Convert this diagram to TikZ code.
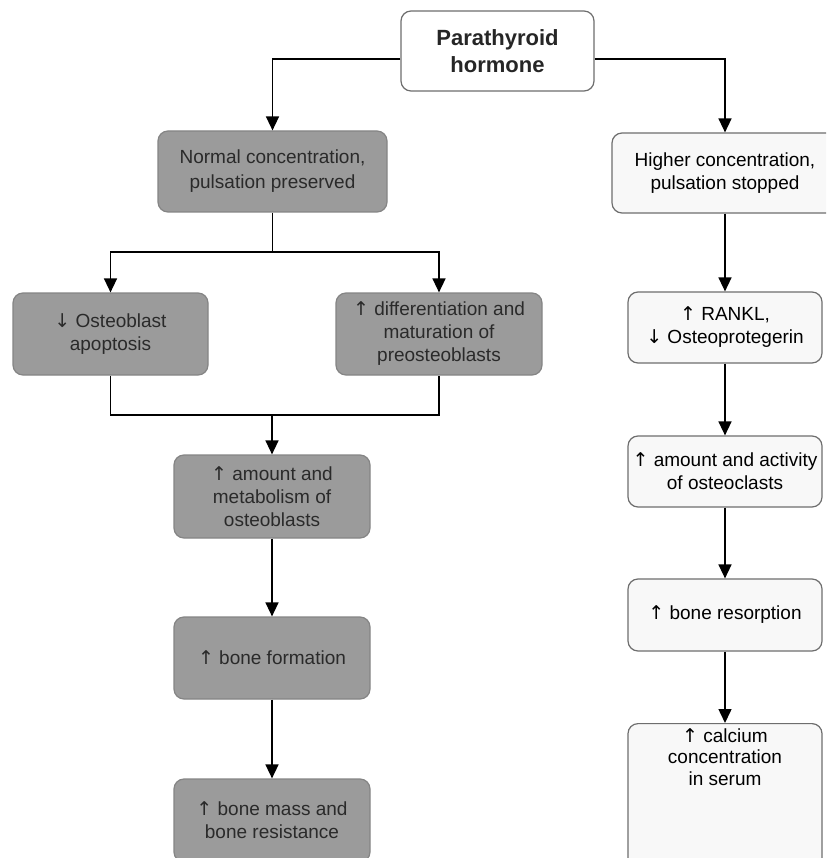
\documentclass[tikz,border=0pt]{standalone}
\usepackage{fontspec}
\setmainfont{Liberation Sans}
\newfontfamily\arrfont{DejaVu Sans}
\newcommand{\upar}{{\arrfont ↑}}
\newcommand{\dnar}{{\arrfont ↓}}
\usetikzlibrary{arrows.meta,positioning}
\definecolor{grayfill}{HTML}{9B9B9B}
\definecolor{grayedge}{HTML}{858585}
\definecolor{lightfill}{HTML}{F8F8F8}
\definecolor{lightedge}{HTML}{6E6E6E}
\definecolor{graytext}{HTML}{2A2A2A}
\tikzset{
  basebox/.style={rectangle, rounded corners=10pt, align=center, inner sep=0pt,
    line width=1.2pt, font=\fontsize{19}{23}\selectfont},
  darkbox/.style={basebox, draw=grayedge, fill=grayfill, text=graytext},
  lightbox/.style={basebox, draw=lightedge, fill=lightfill, text=black},
  topbox/.style={basebox, draw=lightedge, fill=white, text=black!85,
    font=\fontsize{22}{27}\selectfont\bfseries},
  arr/.style={line width=1.5pt, -{Triangle[width=13pt,length=14pt]}},
  ln/.style={line width=1.5pt},
}
\begin{document}
\begin{tikzpicture}[x=1pt,y=-1pt]
\clip (0,0) rectangle (826,858);
\fill[white] (0,0) rectangle (826,858);
% top
\node[topbox, minimum width=193pt, minimum height=80pt] (pth) at (497.5,51) {Parathyroid\\hormone};
% left branch
\node[darkbox, minimum width=229pt, minimum height=81pt, font=\fontsize{19}{25}\selectfont] (normal) at (272.5,171.5) {Normal concentration,\\pulsation preserved};
\node[darkbox, minimum width=195pt, minimum height=82pt] (apop) at (110.5,334) {\dnar{} Osteoblast\\apoptosis};
\node[darkbox, minimum width=206pt, minimum height=82pt] (diff) at (439,334) {\upar{} differentiation and\\maturation of\\preosteoblasts};
\node[darkbox, minimum width=196pt, minimum height=83pt] (amount) at (272,496.5) {\upar{} amount and\\metabolism of\\osteoblasts};
\node[darkbox, minimum width=196pt, minimum height=82pt] (formation) at (272,658) {\upar{} bone formation};
\node[darkbox, minimum width=196pt, minimum height=83pt] (mass) at (272,820.5) {\upar{} bone mass and\\bone resistance};
% right branch
\node[lightbox, minimum width=226pt, minimum height=80pt] (higher) at (725,173) {Higher concentration,\\pulsation stopped};
\node[lightbox, minimum width=194pt, minimum height=71pt] (rankl) at (725,327.5) {\upar{} RANKL,\\\dnar{} Osteoprotegerin};
\node[lightbox, minimum width=194pt, minimum height=71pt] (clasts) at (725,471.5) {\upar{} amount and activity\\of osteoclasts};
\node[lightbox, minimum width=194pt, minimum height=72pt] (resorp) at (725,615) {\upar{} bone resorption};
\node[lightbox, minimum width=194pt, minimum height=150pt, anchor=north] (calcbox) at (725,723) {};
\node[align=center, inner sep=0pt, anchor=north, font=\fontsize{19}{21.5}\selectfont] (calctext) at (725,728) {\upar{} calcium\\concentration\\in serum};
% connectors
\draw[arr] ([yshift=-8pt]pth.west) -| (normal.north);
\draw[arr] ([yshift=-8pt]pth.east) -| (higher.north);
\coordinate (split) at (272.5,252);
\draw[ln] (normal.south) -- (split);
\draw[arr] (split) -| (apop.north);
\draw[arr] (split) -| (diff.north);
\coordinate (join) at (272,415);
\draw[ln] (apop.south) |- (join) -| (diff.south);
\draw[arr] (join) -- (amount.north);
\draw[arr] (amount) -- (formation);
\draw[arr] (formation) -- (mass);
\draw[arr] (higher) -- (rankl);
\draw[arr] (rankl) -- (clasts);
\draw[arr] (clasts) -- (resorp);
\draw[arr] (resorp.south) -- (calcbox.north);
\end{tikzpicture}
\end{document}
